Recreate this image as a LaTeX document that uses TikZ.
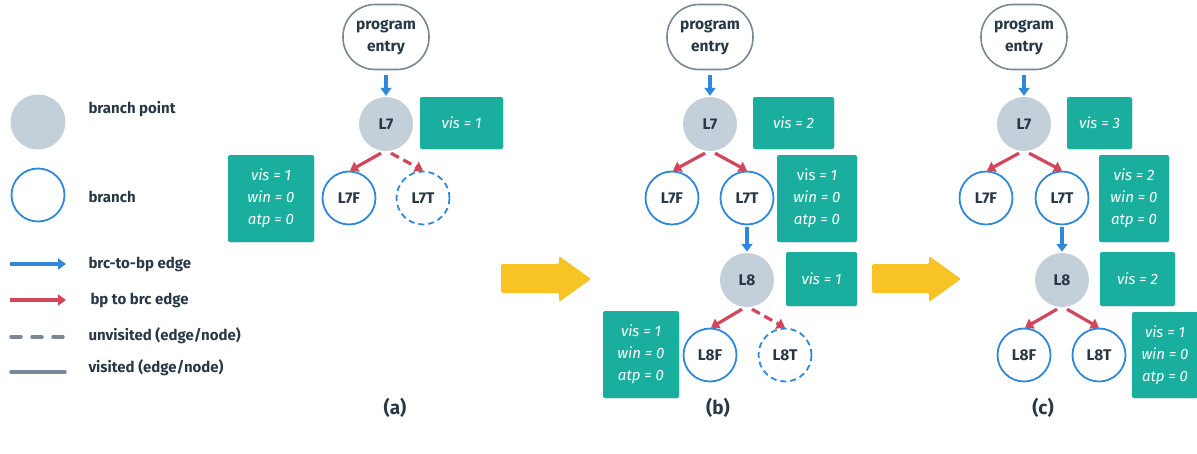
\documentclass[tikz,border=0pt]{standalone}
\usepackage{fontspec}
\setmainfont{Fira Sans}
\usetikzlibrary{arrows.meta,calc,shadows}
\definecolor{tealbox}{HTML}{1AAE9F}
\definecolor{bpfill}{HTML}{C3CFD9}
\definecolor{brcblue}{HTML}{2F88DA}
\definecolor{edgered}{HTML}{D3455B}
\definecolor{arrowyellow}{HTML}{F7C325}
\definecolor{darktext}{HTML}{293845}
\definecolor{graylin}{HTML}{788896}
\tikzset{
  bpnode/.style={circle,fill=bpfill,minimum size=54pt,inner sep=0pt,text=darktext,font=\bfseries\fontsize{15.5}{18}\selectfont},
  brcnode/.style={circle,draw=brcblue,line width=1.8pt,fill=white,minimum size=53pt,inner sep=0pt,text=darktext,font=\bfseries\fontsize{15.5}{18}\selectfont},
  unvis/.style={dash pattern=on 6pt off 4pt},
  entrynode/.style={draw=graylin,line width=1.6pt,rounded corners=32pt,minimum width=86pt,minimum height=65pt,inner sep=0pt,align=center,text=darktext,font=\bfseries\fontsize{15.5}{22}\selectfont},
  infobox/.style={fill=tealbox,rounded corners=2pt,text=white,align=center,inner sep=0pt,font=\itshape\fontsize{15}{22}\selectfont,drop shadow={opacity=0.15,shadow xshift=1pt,shadow yshift=-1pt}},
  bluearrow/.style={draw=brcblue,line width=3.2pt,-{Triangle[length=8pt,width=11pt]}},
  redarrow/.style={draw=edgered,line width=3.2pt,-{Triangle[length=8pt,width=11pt]}},
  legtext/.style={anchor=west,text=darktext,font=\bfseries\fontsize{15}{18}\selectfont},
  sublabel/.style={text=darktext,font=\bfseries\fontsize{19}{22}\selectfont},
  bigarrow/.style={fill=arrowyellow,rounded corners=1.5pt},
}
\begin{document}
\begin{tikzpicture}[x=1pt,y=-1pt]
\useasboundingbox (0,0) rectangle (1197,453);
% legend
\node[bpnode,minimum size=55pt] (lgbp) at (38,122) {};
\node[legtext] (lgbpt) at (85,109) {branch point};
\node[brcnode] (lgbr) at (38,195) {};
\node[legtext] (lgbrt) at (85,197) {branch};
\coordinate (lga1) at (10,264); \coordinate (lga2) at (66,264);
\draw[bluearrow] (lga1) -- (lga2);
\node[legtext] (lgat) at (85,264) {brc-to-bp edge};
\coordinate (lgb1) at (10,300); \coordinate (lgb2) at (66,300);
\draw[redarrow] (lgb1) -- (lgb2);
\node[legtext] (lgbt) at (87,300) {bp to brc edge};
\coordinate (lgc1) at (11,337); \coordinate (lgc2) at (63,337);
\draw[draw=graylin,line width=3.5pt,line cap=round,dash pattern=on 10pt off 11pt] (lgc1) -- (lgc2);
\node[legtext] (lgct) at (85,336) {unvisited (edge/node)};
\coordinate (lgd1) at (11,372); \coordinate (lgd2) at (65,372);
\draw[draw=graylin,line width=3.5pt,line cap=round] (lgd1) -- (lgd2);
\node[legtext] (lgdt) at (85,368) {visited (edge/node)};

% ---------- panel a ----------
\node[entrynode] (aE) at (386,37) {program\\entry};
\node[bpnode] (aL7) at (386,124) {L7};
\node[brcnode] (aL7F) at (349,198) {L7F};
\node[brcnode,unvis] (aL7T) at (423,198) {L7T};
\draw[bluearrow] ($(aE.south)+(0,5)$) -- ($(aL7.north)+(0,-1)$);
\draw[redarrow] ($(aL7.south)+(-5,2)$) -- ($(aL7F.north)+(1,0)$);
\draw[redarrow,dash pattern=on 9pt off 5pt] ($(aL7.south)+(5,2)$) -- ($(aL7T.north)+(0,0)$);
\node[infobox,minimum width=83pt,minimum height=52pt] (aB1) at (461.5,123) {vis = 1};
\node[infobox,minimum width=86pt,minimum height=87pt] (aB2) at (271,198.5) {vis = 1\\win = 0\\atp = 0};
\node[sublabel] (la) at (395,408) {(a)};

% yellow arrows
\path[bigarrow] (501,264) -- (559,264) -- (559,256) -- (591,279) -- (559,302) -- (559,293) -- (501,293) -- cycle;
\path[bigarrow] (872,264) -- (929,264) -- (929,256) -- (961,279) -- (929,302) -- (929,293) -- (872,293) -- cycle;

% ---------- panel b ----------
\node[entrynode] (bE) at (710,37) {program\\entry};
\node[bpnode] (bL7) at (710,124) {L7};
\node[brcnode] (bL7F) at (672,198) {L7F};
\node[brcnode] (bL7T) at (747,198) {L7T};
\node[bpnode] (bL8) at (747,280) {L8};
\node[brcnode] (bL8F) at (710,355) {L8F};
\node[brcnode,unvis] (bL8T) at (785,355) {L8T};
\draw[bluearrow] ($(bE.south)+(0,5)$) -- ($(bL7.north)+(0,-1)$);
\draw[redarrow] ($(bL7.south)+(-5,2)$) -- ($(bL7F.north)+(1,0)$);
\draw[redarrow] ($(bL7.south)+(5,2)$) -- ($(bL7T.north)+(0,0)$);
\draw[bluearrow] ($(bL7T.south)+(0,2)$) -- ($(bL8.north)+(0,-1)$);
\draw[redarrow] ($(bL8.south)+(-5,2)$) -- ($(bL8F.north)+(1,0)$);
\draw[redarrow,dash pattern=on 9pt off 5pt] ($(bL8.south)+(5,2)$) -- ($(bL8T.north)+(0,0)$);
\node[infobox,minimum width=81pt,minimum height=52pt] (bB1) at (793.5,123) {vis = 2};
\node[infobox,minimum width=80pt,minimum height=87pt] (bB2) at (817,198.5) {{\upshape vis} = 1\\win = 0\\atp = 0};
\node[infobox,minimum width=71pt,minimum height=54pt] (bB3) at (821.5,279) {vis = 1};
\node[infobox,minimum width=76pt,minimum height=87pt] (bB4) at (641,354.5) {vis = 1\\win = 0\\atp = 0};
\node[sublabel] (lb) at (718,408) {(b)};

% ---------- panel c ----------
\node[entrynode] (cE) at (1024,37) {program\\entry};
\node[bpnode] (cL7) at (1024,124) {L7};
\node[brcnode] (cL7F) at (986,198) {L7F};
\node[brcnode] (cL7T) at (1062,198) {L7T};
\node[bpnode] (cL8) at (1062,280) {L8};
\node[brcnode] (cL8F) at (1024,355) {L8F};
\node[brcnode] (cL8T) at (1099,355) {L8T};
\draw[bluearrow] ($(cE.south)+(0,5)$) -- ($(cL7.north)+(0,-1)$);
\draw[redarrow] ($(cL7.south)+(-5,2)$) -- ($(cL7F.north)+(1,0)$);
\draw[redarrow] ($(cL7.south)+(5,2)$) -- ($(cL7T.north)+(0,0)$);
\draw[bluearrow] ($(cL7T.south)+(0,2)$) -- ($(cL8.north)+(0,-1)$);
\draw[redarrow] ($(cL8.south)+(-5,2)$) -- ($(cL8F.north)+(1,0)$);
\draw[redarrow] ($(cL8.south)+(5,2)$) -- ($(cL8T.north)+(0,0)$);
\node[infobox,minimum width=65pt,minimum height=52pt] (cB1) at (1099.5,123) {vis = 3};
\node[infobox,minimum width=70pt,minimum height=87pt] (cB2) at (1134,198.5) {vis = 2\\win = 0\\atp = 0};
\node[infobox,minimum width=75pt,minimum height=54pt] (cB3) at (1137.5,279) {vis = 2};
\node[infobox,minimum width=66pt,minimum height=86pt] (cB4) at (1165,355) {vis = 1\\win = 0\\atp = 0};
\node[sublabel] (lc) at (1043,408) {(c)};
\end{tikzpicture}
\end{document}
